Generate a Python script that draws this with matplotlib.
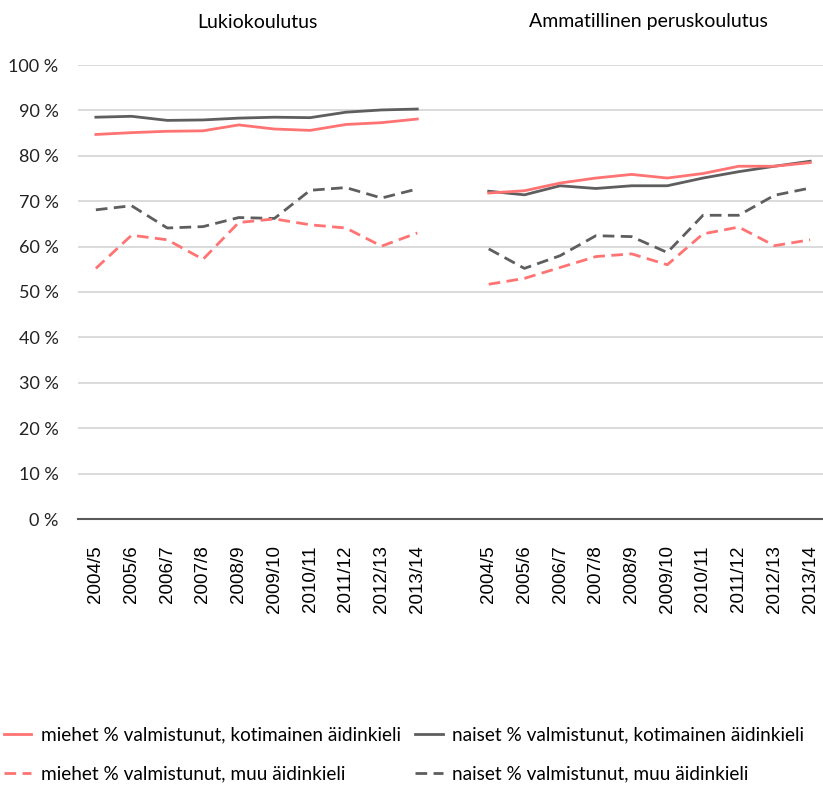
from matplotlib import pyplot as plt
from matplotlib.lines import Line2D

plt.rcParams['font.family'] = ['Lato', 'DejaVu Sans']

years = ["2004/5", "2005/6", "2006/7", "2007/8", "2008/9",
         "2009/10", "2010/11", "2011/12", "2012/13", "2013/14"]

# Lukiokoulutus
luk_miehet_kot = [84.7, 85.1, 85.4, 85.5, 86.8, 85.9, 85.6, 86.9, 87.3, 88.1]
luk_naiset_kot = [88.5, 88.7, 87.8, 87.9, 88.3, 88.5, 88.4, 89.6, 90.1, 90.3]
luk_miehet_muu = [55.2, 62.5, 61.5, 57.2, 65.3, 66.1, 64.8, 64.1, 60.1, 63.0]
luk_naiset_muu = [68.1, 69.0, 64.1, 64.4, 66.4, 66.2, 72.4, 73.0, 70.7, 72.7]

# Ammatillinen peruskoulutus
amm_miehet_kot = [71.8, 72.3, 74.0, 75.1, 75.9, 75.1, 76.1, 77.7, 77.7, 78.5]
amm_naiset_kot = [72.2, 71.4, 73.4, 72.8, 73.4, 73.4, 75.1, 76.5, 77.7, 78.8]
amm_miehet_muu = [51.7, 53.0, 55.4, 57.8, 58.4, 56.0, 62.8, 64.3, 60.2, 61.5]
amm_naiset_muu = [59.5, 55.2, 58.0, 62.4, 62.2, 58.7, 66.9, 66.9, 71.3, 72.9]

red = '#FF7373'
gray = '#5E5E5E'
lw = 2.0
dash = (0, (4.2, 2.3))

fig = plt.figure(figsize=(8.23, 7.86), dpi=100)
ax = fig.add_axes([78 / 823, 267 / 786, 750 / 823, 454 / 786])

x1 = list(range(10))
x2 = [i + 11 for i in range(10)]

for xs, mk, nk, mm, nm in [(x1, luk_miehet_kot, luk_naiset_kot, luk_miehet_muu, luk_naiset_muu),
                           (x2, amm_miehet_kot, amm_naiset_kot, amm_miehet_muu, amm_naiset_muu)]:
    ax.plot(xs, nm, color=gray, linewidth=lw, linestyle=dash)
    ax.plot(xs, mm, color=red, linewidth=lw, linestyle=dash)
    ax.plot(xs, nk, color=gray, linewidth=lw)
    ax.plot(xs, mk, color=red, linewidth=lw)

ax.set_xlim(-0.5, 20.5)
ax.set_ylim(0, 100)
ax.set_yticks(range(0, 101, 10))
ax.set_yticklabels([f"{v} %" for v in range(0, 101, 10)], fontsize=13, color='#222222')
ax.set_xticks(x1 + x2)
ax.set_xticklabels(years + years, rotation=90, fontsize=13.5,
                   family=['Liberation Sans', 'DejaVu Sans'])
ax.tick_params(length=0)
ax.tick_params(axis='y', pad=14)
ax.tick_params(axis='x', pad=19)
ax.grid(axis='y', color='#D4D4D4', linewidth=1.2)
ax.set_axisbelow(True)
for s in ['top', 'right', 'left']:
    ax.spines[s].set_visible(False)
ax.spines['bottom'].set_color('#595959')
ax.spines['bottom'].set_linewidth(1.5)
ax.spines['bottom'].set_zorder(5)

fig.text(257 / 823, 1 - 22 / 786, "Lukiokoulutus", ha='center', va='center', fontsize=14)
fig.text(648 / 823, 1 - 22 / 786, "Ammatillinen peruskoulutus", ha='center', va='center', fontsize=14)

handles = [
    Line2D([], [], color=red, linewidth=lw),
    Line2D([], [], color=red, linewidth=lw, linestyle=dash),
    Line2D([], [], color=gray, linewidth=lw),
    Line2D([], [], color=gray, linewidth=lw, linestyle=dash),
]
labels = [
    "miehet % valmistunut, kotimainen äidinkieli",
    "miehet % valmistunut, muu äidinkieli",
    "naiset % valmistunut, kotimainen äidinkieli",
    "naiset % valmistunut, muu äidinkieli",
]
fig.legend(handles, labels, ncol=2, loc='lower left', bbox_to_anchor=(0.0, 0.0),
           frameon=False, fontsize=13.7, handlelength=1.45, handletextpad=0.5,
           columnspacing=0.75, labelspacing=1.15, borderaxespad=0.1, borderpad=0.1)

fig.savefig("out.png", dpi=100)
